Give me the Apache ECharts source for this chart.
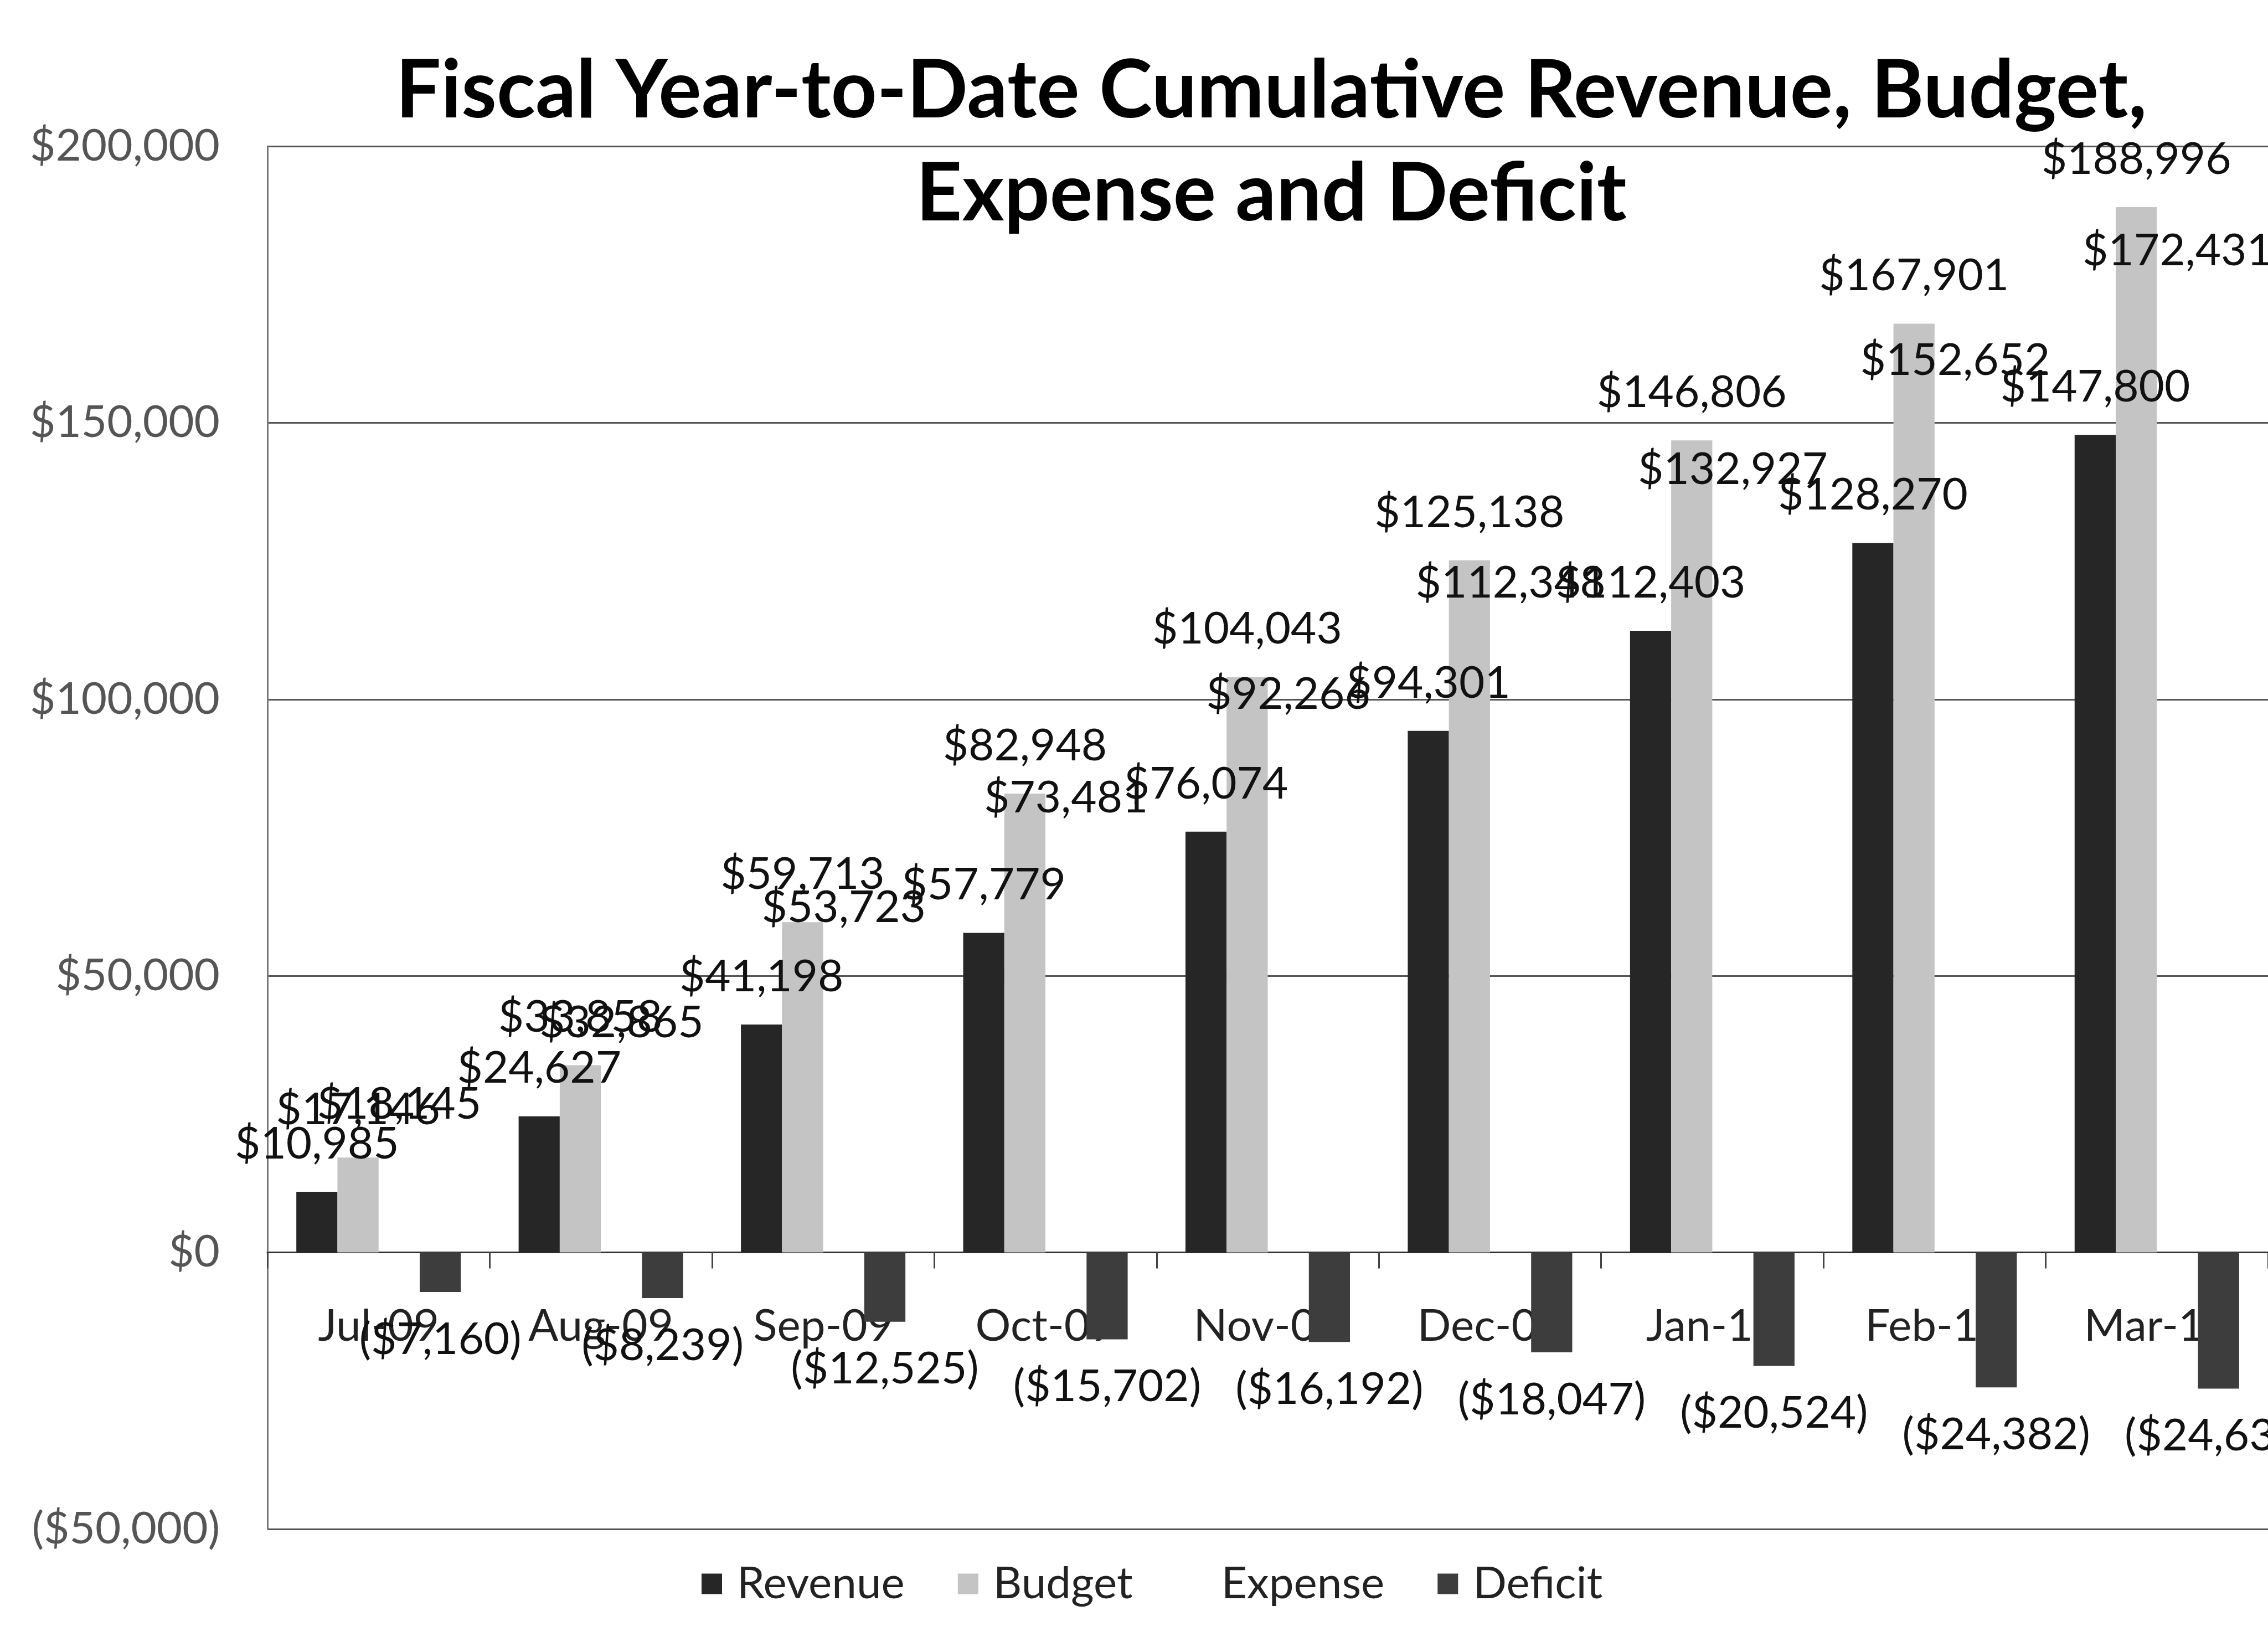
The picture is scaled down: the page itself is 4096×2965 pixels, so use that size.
<!DOCTYPE html>
<html>
<head>
<meta charset="utf-8">
<style>
  html, body { margin: 0; padding: 0; background: #fff; }
  #chart { width: 4096px; height: 2965px; }
</style>
<script src="https://cdn.jsdelivr.net/npm/echarts@6/dist/echarts.min.js"></script>
</head>
<body>
<div id="chart"></div>
<script>
// data
var months = ['Jul-09', 'Aug-09', 'Sep-09', 'Oct-09', 'Nov-09', 'Dec-09', 'Jan-10', 'Feb-10', 'Mar-10'];
var revenue = [10985, 24627, 41198, 57779, 76074, 94301, 112403, 128270, 147800];
var budget = [17146, 33858, 59713, 82948, 104043, 125138, 146806, 167901, 188996];
var expense = [18145, 32865, 53723, 73481, 92266, 112348, 132927, 152652, 172431];
var deficit = [-7160, -8239, -12525, -15702, -16192, -18047, -20524, -24382, -24631];

var FONT = 'Lato';

function money(v) {
  var s = '$' + Math.abs(v).toLocaleString('en-US');
  return v < 0 ? '(' + s + ')' : s;
}

var myChart = echarts.init(document.getElementById('chart'));

// plot box (px), the category axis sits on the $0 line
var gridTop = 264, gridBottom = 204, yMin = -50000, yMax = 200000;
var plotH = 2965 - gridTop - gridBottom;
var zeroShift = plotH * (0 - yMin) / (yMax - yMin);

function barLabel(pos) {
  return {
    show: true,
    position: pos,
    distance: 46,
    color: '#111',
    fontFamily: FONT,
    fontSize: 80,
    formatter: function (p) { return money(p.value); }
  };
}

var option = {
  animation: false,
  backgroundColor: '#fff',
  title: {
    text: 'Fiscal Year-to-Date Cumulative Revenue, Budget,\nExpense and Deficit',
    left: 2296,
    top: 72,
    textAlign: 'center',
    padding: 0,
    textStyle: {
      fontFamily: FONT,
      fontWeight: 'bold',
      fontSize: 145,
      lineHeight: 186,
      color: '#000'
    }
  },
  legend: {
    left: 1262,
    top: 2815,
    itemWidth: 37,
    itemHeight: 37,
    itemGap: 96,
    icon: 'rect',
    textStyle: {
      fontFamily: FONT,
      fontSize: 80,
      color: '#222',
      padding: [0, 0, 0, 22]
    },
    data: ['Revenue', 'Budget', 'Expense', 'Deficit']
  },
  grid: {
    left: 483,
    right: -15,
    top: gridTop,
    bottom: gridBottom,
    containLabel: false
  },
  xAxis: {
    type: 'category',
    data: months,
    position: 'bottom',
    offset: -zeroShift,
    axisLine: { onZero: false, lineStyle: { color: '#333', width: 3 } },
    axisTick: { show: true, length: 29, lineStyle: { color: '#444', width: 3 } },
    axisLabel: {
      interval: 0,
      margin: 94,
      color: '#222',
      fontFamily: FONT,
      fontSize: 80
    }
  },
  yAxis: {
    type: 'value',
    min: yMin,
    max: yMax,
    interval: 50000,
    axisLine: { show: true, lineStyle: { color: '#777', width: 3 } },
    axisTick: { show: false },
    splitLine: { show: true, lineStyle: { color: '#555', width: 3 } },
    axisLabel: {
      margin: 86,
      color: '#555',
      fontFamily: FONT,
      fontSize: 80,
      formatter: money
    }
  },
  series: [
    {
      name: 'Revenue',
      type: 'bar',
      data: revenue,
      barGap: '0%',
      barCategoryGap: '26%',
      itemStyle: { color: '#262626' },
      label: barLabel('top')
    },
    {
      name: 'Budget',
      type: 'bar',
      data: budget,
      itemStyle: { color: '#c4c4c4' },
      label: barLabel('top')
    },
    {
      name: 'Expense',
      type: 'bar',
      data: expense,
      itemStyle: { color: 'rgba(255,255,255,0)' },
      label: barLabel('top')
    },
    {
      name: 'Deficit',
      type: 'bar',
      data: deficit,
      itemStyle: { color: '#3d3d3d' },
      label: barLabel('bottom')
    }
  ]
};

myChart.setOption(option);
</script>
</body>
</html>
